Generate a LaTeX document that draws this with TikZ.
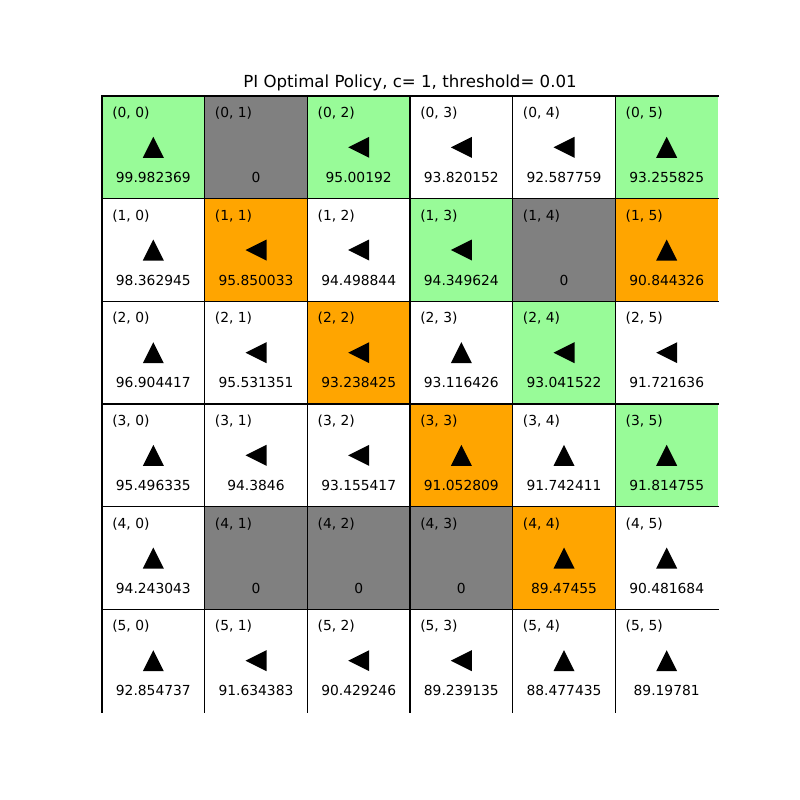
\documentclass[tikz,border=0pt]{standalone}
\usepackage{fontspec}
\setmainfont{DejaVu Sans}
\usetikzlibrary{calc}

\definecolor{goalgreen}{HTML}{98FB98}
\definecolor{trapor}{HTML}{FFA500}
\definecolor{wallgray}{HTML}{808080}

\begin{document}
\begin{tikzpicture}[
    x=0.254mm, y=-0.254mm,
    font=\fontsize{10}{12}\selectfont,
    cell/.style  = {draw=none, inner sep=0pt, outer sep=0pt,
                    minimum size=26.078mm},
    idx/.style   = {anchor=west, inner sep=0pt},
    val/.style   = {inner sep=0pt},
    edge/.style  = {line width=1pt, line cap=rect},
    arrU/.pic    = {\fill (-10.5,10.5) -- (10.5,10.5) -- (0,-10.5) -- cycle;},
    arrL/.pic    = {\fill (-10.5,0) -- (10.5,-10.5) -- (10.5,10.5) -- cycle;},
    arrN/.pic    = {},
]
\useasboundingbox (0,0) rectangle (800,800);

%% ── Title ────────────────────────────────────────────────────────────────
\node[font=\fontsize{12}{14}\selectfont] (title) at (410,83)
  {PI Optimal Policy, c= 1, threshold= 0.01};

%% ── Cells: row/col/fill/action/value ─────────────────────────────────────
\def\gridcells{%
  0/0/goalgreen/U/99.982369, 0/1/wallgray/N/0, 0/2/goalgreen/L/95.00192,
  0/3/white/L/93.820152, 0/4/white/L/92.587759, 0/5/goalgreen/U/93.255825,
  1/0/white/U/98.362945, 1/1/trapor/L/95.850033, 1/2/white/L/94.498844,
  1/3/goalgreen/L/94.349624, 1/4/wallgray/N/0, 1/5/trapor/U/90.844326,
  2/0/white/U/96.904417, 2/1/white/L/95.531351, 2/2/trapor/L/93.238425,
  2/3/white/U/93.116426, 2/4/goalgreen/L/93.041522, 2/5/white/L/91.721636,
  3/0/white/U/95.496335, 3/1/white/L/94.3846, 3/2/white/L/93.155417,
  3/3/trapor/U/91.052809, 3/4/white/U/91.742411, 3/5/goalgreen/U/91.814755,
  4/0/white/U/94.243043, 4/1/wallgray/N/0, 4/2/wallgray/N/0,
  4/3/wallgray/N/0, 4/4/trapor/U/89.47455, 4/5/white/U/90.481684,
  5/0/white/U/92.854737, 5/1/white/L/91.634383, 5/2/white/L/90.429246,
  5/3/white/L/89.239135, 5/4/white/U/88.477435, 5/5/white/U/89.19781}

\foreach \r/\c/\col/\dir/\val in \gridcells {
  \node[cell, fill=\col] (c\r\c) at ({153.33+\c*102.67},{147.33+\r*102.67}) {};
}

%% ── Borders, labels, arrows, values ──────────────────────────────────────
\foreach \r/\c/\col/\dir/\val in \gridcells {
  \draw[edge] (c\r\c.south west) |- (c\r\c.north east);
  \node[idx] (l\r\c) at ($(c\r\c.north west)+(10,17)$) {(\r, \c)};
  \pic at (c\r\c) {arr\dir};
  \node[val] (v\r\c) at ($(c\r\c.center)+(0,30)$) {\val};
}

\end{tikzpicture}
\end{document}
